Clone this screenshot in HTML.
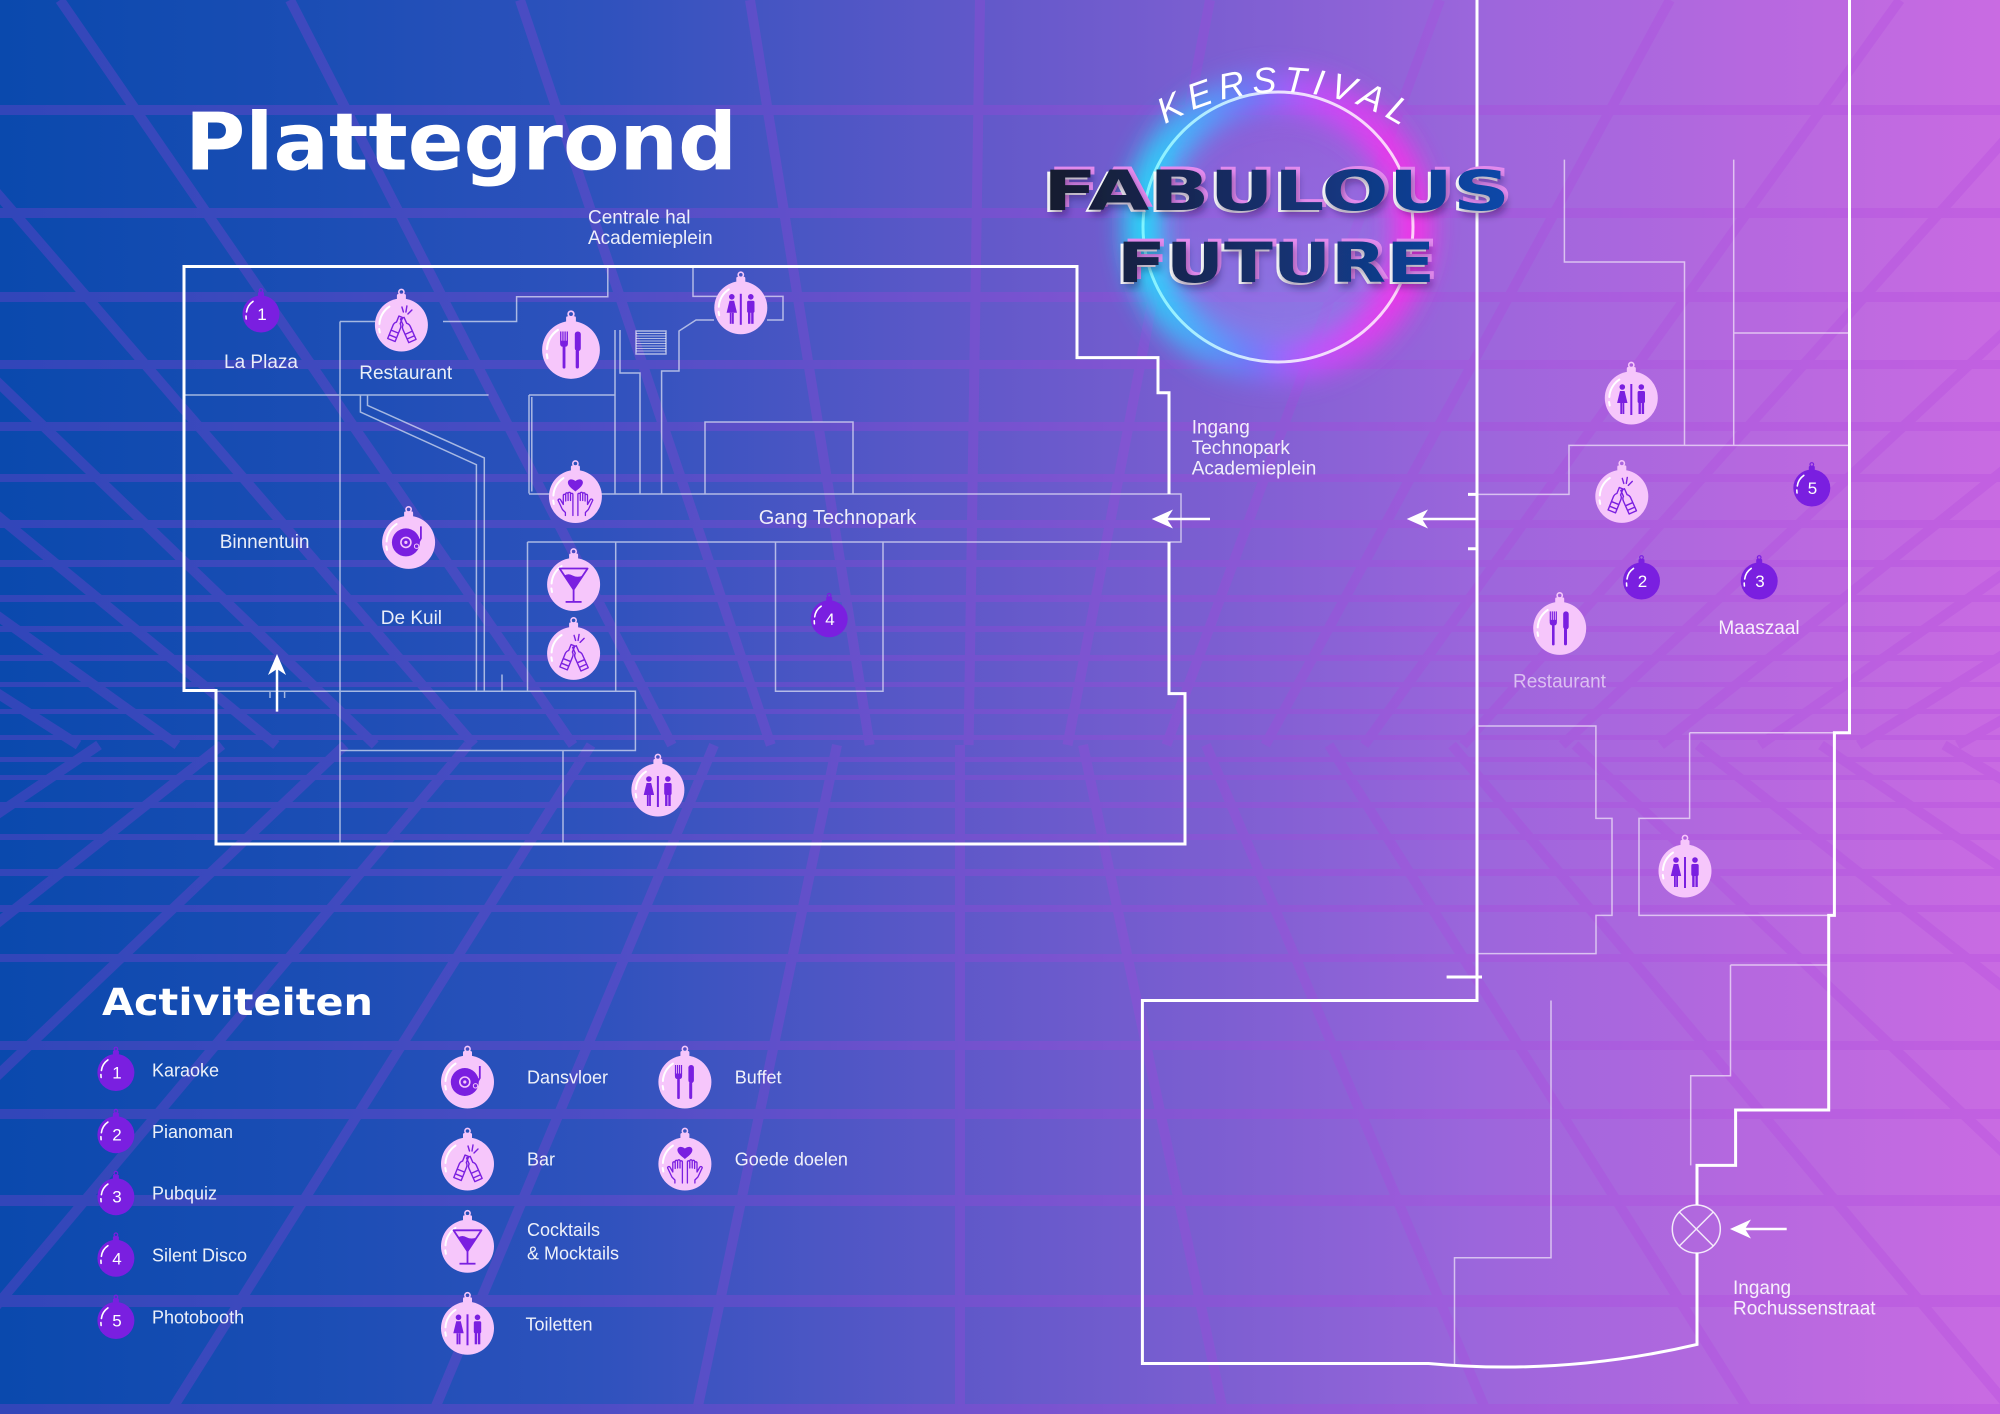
<!DOCTYPE html>
<html><head><meta charset="utf-8"><style>
html,body{margin:0;padding:0;width:2000px;height:1414px;overflow:hidden;background:#5a58c8}
svg{display:block}
</style></head><body>
<svg width="2000" height="1414" viewBox="0 0 2000 1414" xmlns="http://www.w3.org/2000/svg" xmlns:xlink="http://www.w3.org/1999/xlink">
<defs>
 <linearGradient id="bg" x1="0" y1="0" x2="2000" y2="0" gradientUnits="userSpaceOnUse">
  <stop offset="0" stop-color="#0a49ad"/><stop offset="0.15" stop-color="#1a4db4"/>
  <stop offset="0.3" stop-color="#2f52bd"/><stop offset="0.5" stop-color="#6459ca"/>
  <stop offset="0.62" stop-color="#7f5fd2"/><stop offset="0.74" stop-color="#9c66dc"/>
  <stop offset="0.87" stop-color="#b568df"/><stop offset="1" stop-color="#c96be2"/>
 </linearGradient>
 <linearGradient id="ringGlow" x1="1143" y1="0" x2="1413" y2="0" gradientUnits="userSpaceOnUse">
  <stop offset="0" stop-color="#1ee8ff"/><stop offset="0.4" stop-color="#6a7cff"/>
  <stop offset="0.6" stop-color="#c050ff"/><stop offset="1" stop-color="#ff2ee8"/>
 </linearGradient>
 <linearGradient id="ringLine" x1="1143" y1="0" x2="1413" y2="0" gradientUnits="userSpaceOnUse">
  <stop offset="0" stop-color="#7ff4ff"/><stop offset="0.5" stop-color="#ece2ff"/><stop offset="1" stop-color="#ffd0fa"/>
 </linearGradient>
 <linearGradient id="innerFill" x1="0" y1="92" x2="0" y2="362" gradientUnits="userSpaceOnUse">
  <stop offset="0" stop-color="#b85ae6" stop-opacity="0.2"/><stop offset="1" stop-color="#8ea0ff" stop-opacity="0.45"/>
 </linearGradient>
 <linearGradient id="tgrad" x1="1040" y1="0" x2="1510" y2="0" gradientUnits="userSpaceOnUse">
  <stop offset="0" stop-color="#171a2c"/><stop offset="0.5" stop-color="#15306e"/><stop offset="1" stop-color="#0a48aa"/>
 </linearGradient>
 <filter id="blurG" x="-40%" y="-40%" width="180%" height="180%"><feGaussianBlur stdDeviation="13"/></filter>
 <filter id="tshadow" x="-10%" y="-40%" width="120%" height="180%"><feDropShadow dx="2" dy="5" stdDeviation="4" flood-color="#1a0b3a" flood-opacity="0.4"/></filter>

 <g id="ball">
  <rect x="-4.5" y="-31" width="9" height="6" rx="1.5" fill="#f6c6fb"/>
  <circle cx="0" cy="-33" r="2.6" fill="none" stroke="#f6c6fb" stroke-width="1.6"/>
  <circle r="26.5" fill="#f6c6fb"/>
  <path d="M-22 -1 A22 22 0 0 1 -12 -18.4" stroke="#fff" stroke-width="2" fill="none" stroke-linecap="round"/>
  <path d="M-22.2 4 L-21.6 7.5" stroke="#fff" stroke-width="2" stroke-linecap="round"/>
 </g>
 <g id="nball">
  <rect x="-3" y="-22" width="6" height="4.5" rx="1" fill="#7a1fe0"/>
  <circle cy="-23.5" r="1.8" fill="none" stroke="#7a1fe0" stroke-width="1.2"/>
  <circle r="18.5" fill="#7a1fe0"/>
  <path d="M-14.5 -2 A15 15 0 0 1 -8 -12.6" stroke="#fff" stroke-width="1.6" fill="none" stroke-linecap="round"/>
  <path d="M-15 2 L-14.8 5" stroke="#fff" stroke-width="1.6" stroke-linecap="round"/>
 </g>
 <g id="i-wc" fill="#7a1fe0">
  <circle cx="-9" cy="-11" r="2.8"/>
  <path d="M-11.3 -7 H-6.7 L-3.8 5 H-14.2 Z"/>
  <rect x="-11" y="5" width="1.8" height="11"/><rect x="-8.8" y="5" width="1.8" height="11"/>
  <rect x="-1" y="-14" width="2" height="31"/>
  <circle cx="10" cy="-11" r="2.8"/>
  <rect x="6.3" y="-7" width="7.4" height="12" rx="1.5"/>
  <rect x="7.2" y="4" width="2.4" height="12"/><rect x="10.4" y="4" width="2.4" height="12"/>
 </g>
 <g id="i-fork" fill="#7a1fe0">
  <rect x="-10" y="-17" width="1.2" height="9"/><rect x="-8" y="-17" width="1.2" height="9"/>
  <rect x="-6" y="-17" width="1.2" height="9"/><rect x="-4" y="-17" width="1.2" height="9"/>
  <path d="M-10 -8.5 H-2.8 V-6 Q-2.8 -3 -5.5 -3 H-7.3 Q-10 -3 -10 -6 Z"/>
  <rect x="-7.7" y="-4" width="2.6" height="21" rx="1.3"/>
  <rect x="3.5" y="-17" width="5.5" height="18" rx="2.6"/>
  <rect x="4.3" y="0" width="3" height="17" rx="1.5"/>
 </g>
 <g id="i-disc">
  <circle cx="-2.7" cy="0" r="14" fill="#7a1fe0"/>
  <circle cx="-2.7" cy="0" r="5" fill="none" stroke="#f6c6fb" stroke-width="1.6"/>
  <circle cx="-2.7" cy="0" r="1.6" fill="#f6c6fb"/>
  <path d="M12.3 -16 V-4 L8.5 2.5" stroke="#7a1fe0" stroke-width="1.8" fill="none"/>
  <circle cx="8" cy="3.8" r="2.2" fill="#7a1fe0" stroke="#f6c6fb" stroke-width="1"/>
 </g>
 <path id="bottle" d="M-4 0 H4 V-14 Q4 -17 2 -18.5 V-25 H-2 V-18.5 Q-4 -17 -4 -14 Z M-4 -4 H4 M-4 -9 H4"/>
 <g id="i-bar" fill="none" stroke="#7a1fe0" stroke-width="1.4" stroke-linejoin="round">
  <use href="#bottle" xlink:href="#bottle" transform="translate(-10,15) rotate(22)"/>
  <use href="#bottle" xlink:href="#bottle" transform="translate(11,16) rotate(-24)"/>
  <path d="M2 -13 L0.5 -18 M4.5 -13 L5.5 -19 M6.5 -11 L10.5 -15" stroke-linecap="round"/>
 </g>
 <g id="i-cocktail">
  <path d="M-14 -16 H14 L0 5 Z" fill="none" stroke="#7a1fe0" stroke-width="1.8" stroke-linejoin="round"/>
  <path d="M-9.3 -9 Q-5 -11.5 -1 -9 Q4 -6.5 9.3 -9 L0 5 Z" fill="#7a1fe0"/>
  <rect x="-0.9" y="4" width="1.8" height="13" fill="#7a1fe0"/>
  <rect x="-8" y="16.5" width="16" height="1.8" fill="#7a1fe0"/>
 </g>
 <path id="hand" d="M-2.5 19 V12 L-2.5 -2 A1.2 1.2 0 0 0 -4.9 -2 V4 M-4.9 -3 A1.2 1.2 0 0 0 -7.3 -3 V4 M-7.3 -2.5 A1.2 1.2 0 0 0 -9.7 -2.5 V4.5 M-9.7 -1 A1.2 1.2 0 0 0 -12.1 -1 V8 L-15 3 A1.2 1.2 0 0 0 -17 4.5 L-13 13 Q-11 15 -10 16 V19"/>
 <g id="i-heart">
  <path d="M0 -5 C-3 -7.5 -7.5 -10.5 -7.5 -14 C-7.5 -17 -4 -18.5 0 -15.5 C4 -18.5 7.5 -17 7.5 -14 C7.5 -10.5 3 -7.5 0 -5 Z" fill="#7a1fe0"/>
  <g fill="none" stroke="#7a1fe0" stroke-width="1.3" stroke-linecap="round" stroke-linejoin="round">
   <use href="#hand" xlink:href="#hand"/>
   <use href="#hand" xlink:href="#hand" transform="scale(-1,1)"/>
  </g>
 </g>
</defs>

<!-- background -->
<rect width="2000" height="1414" fill="url(#bg)"/>
<g opacity="0.24" fill="#b040e0" stroke="#b040e0">
 <g stroke-width="10" fill="none">
  <path d="M-1090 0L78.5 745M-860 0L177.4 745M-630 0L276.3 745M-400 0L375.2 745M-170 0L474.1 745M60 0L573 745M290 0L671.9 745M520 0L770.8 745M750 0L869.7 745M980 0L968.6 745M1210 0L1067.5 745M1440 0L1166.4 745M1670 0L1265.3 745M1900 0L1364.2 745M2130 0L1463.1 745M2360 0L1562 745M2590 0L1660.9 745M2820 0L1759.8 745M3050 0L1858.7 745M3280 0L1957.6 745"/>
  <path d="M99 745L-885.9 1414M222 745L-622.2 1414M345 745L-358.5 1414M468 745L-94.8 1414M591 745L168.9 1414M714 745L432.6 1414M837 745L696.3 1414M960 745L960 1414M1083 745L1223.7 1414M1206 745L1487.4 1414M1329 745L1751.1 1414M1452 745L2014.8 1414M1575 745L2278.5 1414M1698 745L2542.2 1414M1821 745L2805.9 1414M1944 745L3069.6 1414"/>
 </g>
 <g stroke="none">
  <rect x="0" y="105" width="2000" height="10"/><rect x="0" y="208" width="2000" height="10"/>
  <rect x="0" y="292" width="2000" height="10"/><rect x="0" y="360" width="2000" height="9"/>
  <rect x="0" y="422" width="2000" height="9"/><rect x="0" y="474" width="2000" height="8"/>
  <rect x="0" y="520" width="2000" height="8"/><rect x="0" y="560" width="2000" height="7"/>
  <rect x="0" y="595" width="2000" height="7"/><rect x="0" y="626" width="2000" height="6"/>
  <rect x="0" y="655" width="2000" height="6"/><rect x="0" y="682" width="2000" height="5"/>
  <rect x="0" y="709" width="2000" height="5"/><rect x="0" y="735" width="2000" height="5"/>
  <rect x="0" y="757" width="2000" height="5"/><rect x="0" y="775" width="2000" height="5"/>
  <rect x="0" y="802" width="2000" height="6"/><rect x="0" y="834" width="2000" height="6"/>
  <rect x="0" y="869" width="2000" height="7"/><rect x="0" y="905" width="2000" height="7"/>
  <rect x="0" y="954" width="2000" height="8"/><rect x="0" y="1041" width="2000" height="9"/>
  <rect x="0" y="1109" width="2000" height="10"/><rect x="0" y="1195" width="2000" height="11"/>
  <rect x="0" y="1295" width="2000" height="12"/><rect x="0" y="1404" width="2000" height="10"/>
 </g>
</g>

<!-- logo glow -->
<circle cx="1278" cy="227" r="133" fill="url(#innerFill)"/>
<circle cx="1278" cy="227" r="135" fill="none" stroke="url(#ringGlow)" stroke-width="38" filter="url(#blurG)" opacity="0.9"/>
<circle cx="1278" cy="227" r="135" fill="none" stroke="url(#ringLine)" stroke-width="3"/>

<!-- thin plan lines -->
<g fill="none" stroke="#fff" stroke-opacity="0.6" stroke-width="1.5">
 <path d="M184 395H488.6M340 321.5V844M340 321.5H376M443 321.5H516.6V296.7H607.8V266.5M693 266.5V296.4H783V320H767M714 320H696L679 331V371H661.6V494M615 330V494M620 330V373H640V494M529 395H615M529 395V493.5M531.8 397V491.5M529 494H1181V542H527.5M705 494V422H853V494M527.5 542V691.3M615.7 542V691.3M216 691.3H635.4V750.5H340M563 750.5V844M775.5 542V691.3H883V542M360.4 395V412L476.4 464.7V691.3M367.5 395V405.4L484.3 457.9V691.3M502 674.5V691.3M270 691V698M284.6 691V698"/>
 <rect x="636" y="331" width="30" height="23"/>
 <path d="M636 333.5H666M636 336H666M636 338.5H666M636 341H666M636 343.5H666M636 346H666M636 348.5H666M636 351H666" stroke-width="1"/>
 <path d="M1564.4 159.6V262H1684.5V445.4M1733.7 159.6V445.4M1733.7 333H1849.5M1477 494.4H1569V445.4H1849.5M1477 726H1595.9V818.4H1612V915.4H1596V953.6H1477M1689.6 732.8H1834.4M1689.6 732.8V818.4H1639V915.4H1834.4M1730.5 965H1828.7M1730.5 965V1075.7H1690.7V1165.4M1551 1000.5V1257.8H1454.5V1366"/>
 <circle cx="1696.3" cy="1229" r="24" stroke-opacity="0.85"/>
 <path d="M1679.3 1212L1713.3 1246M1713.3 1212L1679.3 1246" stroke-opacity="0.85"/>
</g>

<!-- thick walls -->
<g fill="none" stroke="#fff" stroke-width="3">
 <path d="M1169 542V693.6H1185V844H216V690.5H184V266.5H1077V357.6H1158V392.8H1169V494"/>
 <path d="M1477 0V1000.5H1142.4V1363.5H1428.6Q1563 1376 1697 1344.4V1253M1697 1205V1165.4H1735.6V1110H1828.7V915.4H1834.4V732.8H1849.5V0"/>
 <path d="M1468 494.4H1477M1468 548.8H1477M1446.6 977H1482"/>
</g>

<!-- arrows -->
<g stroke="#fff" stroke-width="2.5" fill="#fff">
 <path d="M277 711.6V668M1210 519H1166M1475.7 519H1421M1786.7 1229H1744"/>
 <polygon stroke="none" points="277,654 268,675 277,669 286,675"/>
 <polygon stroke="none" points="1151.7,519 1173,509.5 1167,519 1173,528.5"/>
 <polygon stroke="none" points="1406.7,519 1428,509.5 1422,519 1428,528.5"/>
 <polygon stroke="none" points="1730,1229 1751,1219.5 1745,1229 1751,1238.5"/>
</g>

<!-- map balls -->
<g transform="translate(401.4,325)"><use href="#ball" xlink:href="#ball"/><use href="#i-bar" xlink:href="#i-bar"/></g>
<g transform="translate(571,350) scale(1.09)"><use href="#ball" xlink:href="#ball"/><use href="#i-fork" xlink:href="#i-fork"/></g>
<g transform="translate(740.8,307.8)"><use href="#ball" xlink:href="#ball"/><use href="#i-wc" xlink:href="#i-wc"/></g>
<g transform="translate(575.4,496.5)"><use href="#ball" xlink:href="#ball"/><use href="#i-heart" xlink:href="#i-heart"/></g>
<g transform="translate(408.6,542.4)"><use href="#ball" xlink:href="#ball"/><use href="#i-disc" xlink:href="#i-disc"/></g>
<g transform="translate(573.6,584.5)"><use href="#ball" xlink:href="#ball"/><use href="#i-cocktail" xlink:href="#i-cocktail"/></g>
<g transform="translate(573.6,653.4)"><use href="#ball" xlink:href="#ball"/><use href="#i-bar" xlink:href="#i-bar"/></g>
<g transform="translate(657.9,790)"><use href="#ball" xlink:href="#ball"/><use href="#i-wc" xlink:href="#i-wc"/></g>
<g transform="translate(1631.3,398)"><use href="#ball" xlink:href="#ball"/><use href="#i-wc" xlink:href="#i-wc"/></g>
<g transform="translate(1621.8,496.4)"><use href="#ball" xlink:href="#ball"/><use href="#i-bar" xlink:href="#i-bar"/></g>
<g transform="translate(1559.7,628.4)"><use href="#ball" xlink:href="#ball"/><use href="#i-fork" xlink:href="#i-fork"/></g>
<g transform="translate(1685,871)"><use href="#ball" xlink:href="#ball"/><use href="#i-wc" xlink:href="#i-wc"/></g>

<g font-family="Liberation Sans, sans-serif" font-size="17" fill="#fff" text-anchor="middle">
 <use href="#nball" xlink:href="#nball" transform="translate(261,314)"/><text x="262" y="320">1</text>
 <use href="#nball" xlink:href="#nball" transform="translate(829.2,618.8)"/><text x="830" y="625">4</text>
 <use href="#nball" xlink:href="#nball" transform="translate(1811.8,488)"/><text x="1812.5" y="494">5</text>
 <use href="#nball" xlink:href="#nball" transform="translate(1641.5,581)"/><text x="1642.5" y="587">2</text>
 <use href="#nball" xlink:href="#nball" transform="translate(1759.2,581)"/><text x="1760" y="587">3</text>
</g>

<!-- map labels -->
<g font-family="Liberation Sans, sans-serif" font-size="19" fill="#fff" fill-opacity="0.9">
 <g text-anchor="middle">
  <text x="261" y="368">La Plaza</text>
  <text x="405.7" y="379">Restaurant</text>
  <text x="264.6" y="548">Binnentuin</text>
  <text x="411.4" y="624">De Kuil</text>
  <text x="837.5" y="524" font-size="20">Gang Technopark</text>
  <text x="1759" y="634">Maaszaal</text>
  <text x="1559.5" y="687.5" fill-opacity="0.6">Restaurant</text>
 </g>
 <text x="588" y="223.3">Centrale hal</text>
 <text x="588" y="243.8">Academieplein</text>
 <text x="1191.7" y="433.3">Ingang</text>
 <text x="1191.7" y="454">Technopark</text>
 <text x="1191.7" y="474.5">Academieplein</text>
 <text x="1733" y="1294">Ingang</text>
 <text x="1733" y="1314.7">Rochussenstraat</text>
</g>

<!-- titles -->
<text x="185" y="169.5" font-family="DejaVu Sans, Liberation Sans, sans-serif" font-weight="bold" font-size="79" textLength="552" lengthAdjust="spacingAndGlyphs" fill="#fff">Plattegrond</text>
<text x="102" y="1015" font-family="DejaVu Sans, Liberation Sans, sans-serif" font-weight="bold" font-size="37" textLength="271" lengthAdjust="spacingAndGlyphs" fill="#fff">Activiteiten</text>

<!-- logo text -->
<path id="karc" d="M1086.3 205 A226 226 0 0 1 1477.7 205" fill="none"/>
<text font-family="Liberation Sans, sans-serif" font-style="italic" font-size="36" fill="#fff" letter-spacing="6.5"><textPath href="#karc" xlink:href="#karc" startOffset="51%" text-anchor="middle">KERSTIVAL</textPath></text>
<g font-family="DejaVu Sans, Liberation Sans, sans-serif" font-weight="bold" font-size="55">
 <text x="1047" y="207" textLength="467" lengthAdjust="spacingAndGlyphs" fill="#e58cf0">FABULOUS</text>
 <text x="1040" y="212" textLength="467" lengthAdjust="spacingAndGlyphs" fill="#ffffff">FABULOUS</text>
 <text x="1043" y="210" textLength="467" lengthAdjust="spacingAndGlyphs" fill="url(#tgrad)" filter="url(#tshadow)">FABULOUS</text>
 <text x="1121" y="279" textLength="318" lengthAdjust="spacingAndGlyphs" fill="#e58cf0">FUTURE</text>
 <text x="1114" y="284" textLength="318" lengthAdjust="spacingAndGlyphs" fill="#ffffff">FUTURE</text>
 <text x="1117" y="282" textLength="318" lengthAdjust="spacingAndGlyphs" fill="url(#tgrad)" filter="url(#tshadow)">FUTURE</text>
</g>

<!-- legend -->
<g font-family="Liberation Sans, sans-serif" font-size="17" fill="#fff" text-anchor="middle">
 <use href="#nball" xlink:href="#nball" transform="translate(115.9,1072.5)"/><text x="117" y="1078.5">1</text>
 <use href="#nball" xlink:href="#nball" transform="translate(115.9,1134.7)"/><text x="117" y="1140.7">2</text>
 <use href="#nball" xlink:href="#nball" transform="translate(115.9,1196.7)"/><text x="117" y="1202.7">3</text>
 <use href="#nball" xlink:href="#nball" transform="translate(115.9,1258.3)"/><text x="117" y="1264.3">4</text>
 <use href="#nball" xlink:href="#nball" transform="translate(115.9,1320.5)"/><text x="117" y="1326.5">5</text>
</g>
<g transform="translate(467.5,1082)"><use href="#ball" xlink:href="#ball"/><use href="#i-disc" xlink:href="#i-disc"/></g>
<g transform="translate(467.5,1164)"><use href="#ball" xlink:href="#ball"/><use href="#i-bar" xlink:href="#i-bar"/></g>
<g transform="translate(467.5,1246.3)"><use href="#ball" xlink:href="#ball"/><use href="#i-cocktail" xlink:href="#i-cocktail"/></g>
<g transform="translate(467.5,1328.3)"><use href="#ball" xlink:href="#ball"/><use href="#i-wc" xlink:href="#i-wc"/></g>
<g transform="translate(684.9,1082)"><use href="#ball" xlink:href="#ball"/><use href="#i-fork" xlink:href="#i-fork"/></g>
<g transform="translate(684.9,1164)"><use href="#ball" xlink:href="#ball"/><use href="#i-heart" xlink:href="#i-heart"/></g>

<g font-family="Liberation Sans, sans-serif" font-size="18" fill="#fff" fill-opacity="0.92">
 <text x="152" y="1076.7">Karaoke</text>
 <text x="152" y="1137.9">Pianoman</text>
 <text x="152" y="1199.5">Pubquiz</text>
 <text x="152" y="1261.5">Silent Disco</text>
 <text x="152" y="1323.5">Photobooth</text>
 <text x="527" y="1083.3">Dansvloer</text>
 <text x="527" y="1165.3">Bar</text>
 <text x="527" y="1236">Cocktails</text>
 <text x="527" y="1259.3">&amp; Mocktails</text>
 <text x="525.5" y="1330.3">Toiletten</text>
 <text x="734.8" y="1083.3">Buffet</text>
 <text x="734.8" y="1165.3">Goede doelen</text>
</g>
</svg>
</body></html>
